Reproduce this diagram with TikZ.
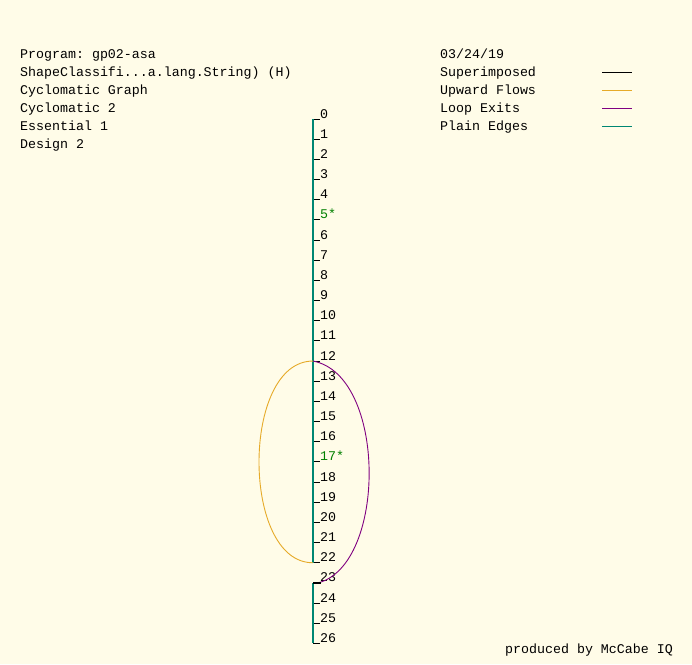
\documentclass[tikz,border=0pt]{standalone}
\usepackage{fontspec}
\setmonofont{Liberation Mono}
\usetikzlibrary{calc}

\definecolor{paper}{RGB}{255,252,232}
\definecolor{upflow}{RGB}{230,170,40}
\definecolor{loopexit}{RGB}{128,0,128}
\definecolor{plainedge}{RGB}{0,135,115}
\definecolor{marked}{RGB}{0,128,0}

\begin{document}
\begin{tikzpicture}[
    x=1pt, y=-1pt,
    info/.style={
        anchor=base west,
        inner sep=0pt,
        font=\ttfamily\fontsize{13.3}{14}\selectfont,
    },
    nodelabel/.style={
        info,
        text depth=0pt,
    },
    tick/.style={
        black,
        line width=0.9pt,
    },
    plain/.style={
        plainedge,
        line width=1.3pt,
    },
    upward/.style={
        upflow,
        line width=0.9pt,
    },
    exits/.style={
        loopexit,
        line width=0.9pt,
    },
    superimposed/.style={
        black,
        line width=2pt,
    }
]
    % Background
    \fill[paper] (0,0) rectangle (692,664);
    \useasboundingbox (0,0) rectangle (692,664);

    % Header
    \node[info] (prog) at (20,58) {Program: gp02-asa};
    \node[info] (sig) at (20,76) {ShapeClassifi...a.lang.String) (H)};
    \node[info] (graph) at (20,94) {Cyclomatic Graph};
    \node[info] (cyclo) at (20,112) {Cyclomatic 2};
    \node[info] (essen) at (20,130) {Essential 1};
    \node[info] (design) at (20,148) {Design 2};

    % Legend
    \node[info] (date) at (440,58) {03/24/19};
    \node[info] (lgsup) at (440,76) {Superimposed};
    \node[info] (lgup) at (440,94) {Upward Flows};
    \node[info] (lgexit) at (440,112) {Loop Exits};
    \node[info] (lgplain) at (440,130) {Plain Edges};
    \coordinate (ksup) at (602,72);
    \coordinate (kup) at (602,90);
    \coordinate (kexit) at (602,108);
    \coordinate (kplain) at (602,126);
    \draw[tick] (ksup) -- ++(30,0);
    \draw[upward] (kup) -- ++(30,0);
    \draw[exits] (kexit) -- ++(30,0);
    \draw[plain, line width=0.9pt] (kplain) -- ++(30,0);

    % Nodes
    \foreach \i in {0,...,26}
        \coordinate (n\i) at (313,{119+20.17*\i});

    % Ticks and numbers
    \foreach \i in {0,...,26}
        \draw[tick] (n\i) -- ++(7,0);
    \foreach \i in {0,...,4,6,7,...,16,18,19,...,26}
        \node[nodelabel] (l\i) at ([xshift=7pt,yshift=1pt]n\i) {\i};
    \node[nodelabel, marked] (l5) at ([xshift=7pt,yshift=1pt]n5) {5*};
    \node[nodelabel, marked] (l17) at ([xshift=7pt,yshift=1pt]n17) {17*};

    % Plain edges
    \draw[plain] (n0) -- (n22);
    \draw[plain] (n23) -- (n26);

    % Loop
    \draw[upward] (n22) .. controls (241,563) and (241,361) .. (n12);
    \draw[exits] (n12) .. controls (387,375) and (387,565) .. ([xshift=5pt]n23);
    \draw[superimposed] (n23) -- ++(8,0);

    % Footer
    \node[info] (credit) at (505,653) {produced by McCabe IQ};
\end{tikzpicture}
\end{document}
